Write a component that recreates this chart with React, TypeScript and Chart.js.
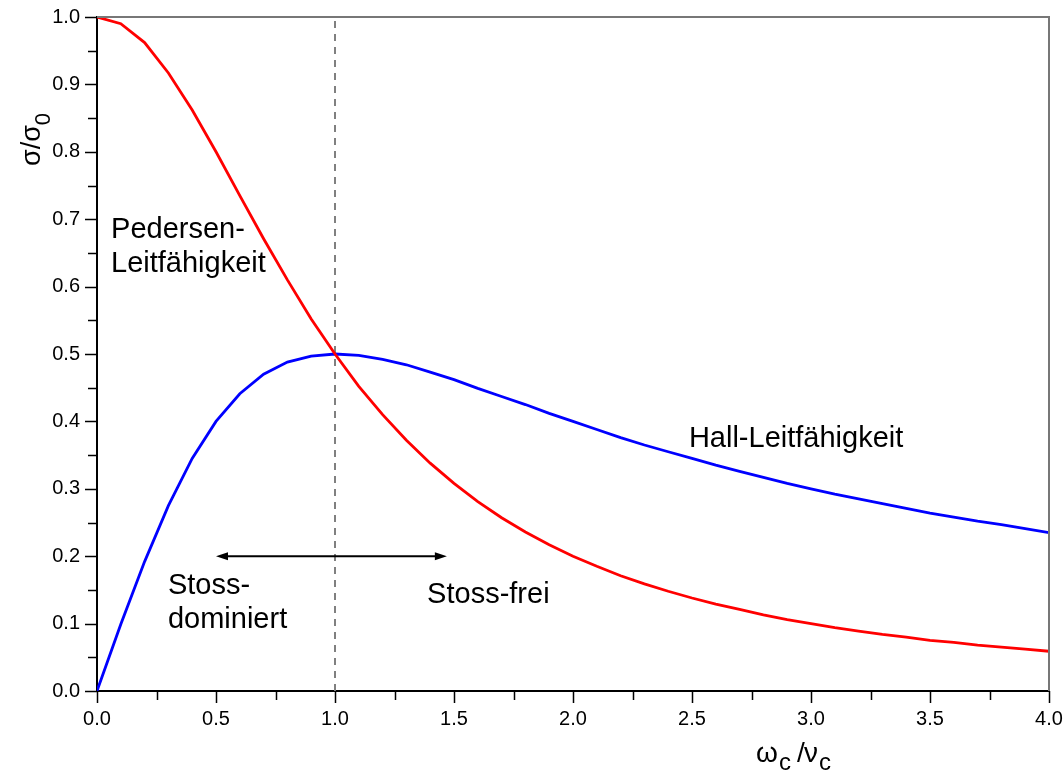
import { useEffect, useRef } from 'react';
import { Chart, registerables } from 'chart.js';

Chart.register(...registerables);

// ---- data ----
const xValues = [
  0.0, 0.1, 0.2, 0.3, 0.4, 0.5, 0.6, 0.7, 0.8, 0.9,
  1.0, 1.1, 1.2, 1.3, 1.4, 1.5, 1.6, 1.7, 1.8, 1.9,
  2.0, 2.1, 2.2, 2.3, 2.4, 2.5, 2.6, 2.7, 2.8, 2.9,
  3.0, 3.1, 3.2, 3.3, 3.4, 3.5, 3.6, 3.7, 3.8, 3.9, 4.0,
];
const pedersen = [
  1.0, 0.99, 0.962, 0.917, 0.862, 0.8, 0.735, 0.671, 0.61, 0.552,
  0.5, 0.452, 0.41, 0.372, 0.338, 0.308, 0.281, 0.257, 0.236, 0.217,
  0.2, 0.185, 0.171, 0.159, 0.148, 0.138, 0.129, 0.121, 0.113, 0.106,
  0.1, 0.094, 0.089, 0.084, 0.08, 0.075, 0.072, 0.068, 0.065, 0.062, 0.059,
];
const hall = [
  0.0, 0.099, 0.192, 0.275, 0.345, 0.4, 0.441, 0.47, 0.488, 0.497,
  0.5, 0.498, 0.492, 0.484, 0.473, 0.462, 0.449, 0.437, 0.425, 0.412,
  0.4, 0.388, 0.376, 0.365, 0.355, 0.345, 0.335, 0.326, 0.317, 0.308,
  0.3, 0.292, 0.285, 0.278, 0.271, 0.264, 0.258, 0.252, 0.247, 0.241, 0.235,
];
const dividerX = [1.0, 1.0];
const dividerY = [0.0, 1.0];
const xMinorTicks = [0.25, 0.75, 1.25, 1.75, 2.25, 2.75, 3.25, 3.75];
const xMajorTicks = [0, 0.5, 1, 1.5, 2, 2.5, 3, 3.5, 4];
const yMajorTicks = [0, 0.1, 0.2, 0.3, 0.4, 0.5, 0.6, 0.7, 0.8, 0.9, 1.0];
const yMinorTicks = [0.05, 0.15, 0.25, 0.35, 0.45, 0.55, 0.65, 0.75, 0.85, 0.95];

// annotations: text, x, y(baseline) in data units
const annotationTexts = ['Pedersen-', 'Leitfähigkeit', 'Hall-Leitfähigkeit', 'Stoss-', 'dominiert', 'Stoss-frei'];
const annotationX = [0.059, 0.059, 2.487, 0.298, 0.298, 1.387];
const annotationY = [0.672, 0.622, 0.362, 0.144, 0.093, 0.131];
const arrowFrom = 0.5;
const arrowTo = 1.47;
const arrowY = 0.2;

const FONT = '"Liberation Sans", Arial, Helvetica, sans-serif';

const overlayPlugin = {
  id: 'overlay',
  afterDatasetsDraw(chart: any) {
    const { ctx, chartArea: a, scales } = chart;
    const xs = scales.x;
    const ys = scales.y;
    ctx.save();
    // top & right frame
    ctx.strokeStyle = '#777777';
    ctx.lineWidth = 2;
    ctx.beginPath();
    ctx.moveTo(a.left, a.top);
    ctx.lineTo(a.right, a.top);
    ctx.lineTo(a.right, a.bottom);
    ctx.stroke();

    // ticks
    ctx.strokeStyle = '#000';
    ctx.lineWidth = 1.5;
    ctx.beginPath();
    yMajorTicks.forEach((v) => {
      const p = Math.round(ys.getPixelForValue(v)) + 0.5;
      ctx.moveTo(a.left - 12, p);
      ctx.lineTo(a.left, p);
    });
    yMinorTicks.forEach((v) => {
      const p = Math.round(ys.getPixelForValue(v)) + 0.5;
      ctx.moveTo(a.left - 9, p);
      ctx.lineTo(a.left, p);
    });
    xMajorTicks.forEach((v) => {
      const p = Math.round(xs.getPixelForValue(v)) + 0.5;
      ctx.moveTo(p, a.bottom);
      ctx.lineTo(p, a.bottom + 12);
    });
    xMinorTicks.forEach((v) => {
      const p = Math.round(xs.getPixelForValue(v)) + 0.5;
      ctx.moveTo(p, a.bottom);
      ctx.lineTo(p, a.bottom + 9);
    });
    ctx.stroke();

    // annotation texts
    ctx.fillStyle = '#000';
    ctx.font = `29px ${FONT}`;
    ctx.textAlign = 'left';
    ctx.textBaseline = 'alphabetic';
    annotationTexts.forEach((t, i) => {
      ctx.fillText(t, xs.getPixelForValue(annotationX[i]), ys.getPixelForValue(annotationY[i]));
    });

    // double arrow
    const x1 = xs.getPixelForValue(arrowFrom);
    const x2 = xs.getPixelForValue(arrowTo);
    const yy = ys.getPixelForValue(arrowY);
    ctx.strokeStyle = '#000';
    ctx.lineWidth = 2;
    ctx.beginPath();
    ctx.moveTo(x1 + 8, yy);
    ctx.lineTo(x2 - 8, yy);
    ctx.stroke();
    ctx.beginPath();
    ctx.moveTo(x1, yy);
    ctx.lineTo(x1 + 12, yy - 4);
    ctx.lineTo(x1 + 12, yy + 4);
    ctx.closePath();
    ctx.moveTo(x2, yy);
    ctx.lineTo(x2 - 12, yy - 4);
    ctx.lineTo(x2 - 12, yy + 4);
    ctx.closePath();
    ctx.fill();

    // x axis title: ωc /νc
    ctx.font = `28px ${FONT}`;
    ctx.fillText('ω', 756, 762);
    ctx.font = `24px ${FONT}`;
    ctx.fillText('c', 779, 770);
    ctx.font = `28px ${FONT}`;
    ctx.fillText('/', 797, 762);
    ctx.fillText('ν', 804, 762);
    ctx.font = `24px ${FONT}`;
    ctx.fillText('c', 819, 770);

    // y axis title: σ/σ0 rotated
    ctx.save();
    ctx.translate(40, 166);
    ctx.rotate(-Math.PI / 2);
    ctx.font = `27px ${FONT}`;
    ctx.fillText('σ/σ', 0, 0);
    const w = ctx.measureText('σ/σ').width;
    ctx.font = `22px ${FONT}`;
    ctx.fillText('0', w, 10);
    ctx.restore();

    ctx.restore();
  },
};

export default function App() {
  const ref = useRef<HTMLCanvasElement>(null);
  useEffect(() => {
    if (!ref.current) return;
    const chart = new Chart(ref.current, {
      type: 'line',
      data: {
        datasets: [
          {
            label: 'Pedersen',
            data: xValues.map((x, i) => ({ x, y: pedersen[i] })),
            borderColor: '#ff0000',
            borderWidth: 2.8,
            pointRadius: 0,
            tension: 0,
          },
          {
            label: 'Hall',
            data: xValues.map((x, i) => ({ x, y: hall[i] })),
            borderColor: '#0000ff',
            borderWidth: 2.8,
            pointRadius: 0,
            tension: 0,
          },
          {
            label: 'divider',
            data: dividerX.map((x, i) => ({ x, y: dividerY[i] })),
            borderColor: '#808080',
            borderWidth: 2,
            borderDash: [7, 6],
            pointRadius: 0,
          },
        ],
      },
      options: {
        responsive: false,
        animation: false,
        layout: { padding: { top: 17, right: 15, left: 0, bottom: 0 } },
        plugins: { legend: { display: false }, tooltip: { enabled: false } },
        scales: {
          x: {
            type: 'linear',
            min: 0,
            max: 4,
            afterFit: (s: any) => {
              s.height = 84;
              s.paddingLeft = 0;
              s.paddingRight = 0;
            },
            grid: { display: false, drawTicks: false },
            border: { display: true, color: '#000', width: 2 },
            ticks: {
              stepSize: 0.5,
              padding: 16,
              color: '#000',
              font: { family: FONT, size: 20 },
              callback: (v: any) => Number(v).toFixed(1),
            },
          },
          y: {
            type: 'linear',
            min: 0,
            max: 1,
            afterFit: (s: any) => {
              s.width = 97;
              s.paddingTop = 0;
              s.paddingBottom = 0;
            },
            grid: { display: false, drawTicks: false },
            border: { display: true, color: '#000', width: 2 },
            ticks: {
              stepSize: 0.1,
              padding: 17,
              color: '#000',
              font: { family: FONT, size: 20 },
              callback: (v: any) => Number(v).toFixed(1),
            },
          },
        },
      },
      plugins: [overlayPlugin],
    });
    return () => chart.destroy();
  }, []);
  return (
    <div style={{ position: 'fixed', left: 0, top: 0, width: 1064, height: 775, background: '#fff' }}>
      <canvas ref={ref} width={1064} height={775} />
    </div>
  );
}
